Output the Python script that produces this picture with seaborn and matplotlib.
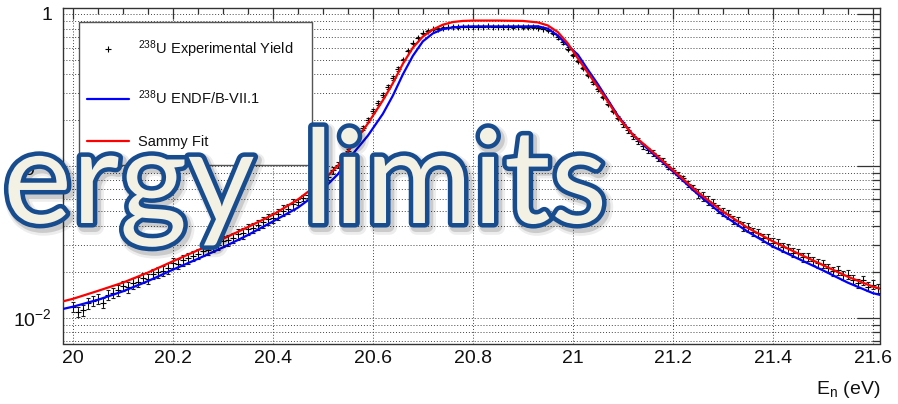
import numpy as np
import pandas as pd
import seaborn as sns
import matplotlib
matplotlib.use("Agg")
import matplotlib.pyplot as plt
from matplotlib import patheffects as pe
from matplotlib.lines import Line2D
from matplotlib.legend_handler import HandlerLine2D
from matplotlib.ticker import MultipleLocator, LogLocator, NullFormatter, FuncFormatter

# ---------------------------------------------------------------- data
# measured capture yield, one point per 0.01 eV from 20.00 to 21.61 eV
exp_energy = np.round(np.arange(20.00, 21.615, 0.01), 2)
exp_yield = [
    0.0118, 0.0109, 0.0112, 0.0124, 0.0129, 0.0133, 0.0125, 0.0141, 0.0146, 0.0151,
    0.0162, 0.0158, 0.0168, 0.0172, 0.0183, 0.0180, 0.0194, 0.0199, 0.0203, 0.0212,
    0.0229, 0.0226, 0.0238, 0.0246, 0.0255, 0.0263, 0.0276, 0.0280, 0.0296, 0.0301,
    0.0318, 0.0323, 0.0336, 0.0355, 0.0360, 0.0382, 0.0390, 0.0408, 0.0424, 0.0446,
    0.0455, 0.0480, 0.0507, 0.0522, 0.0556, 0.0577, 0.0615, 0.0644, 0.0692, 0.0728,
    0.0785,
    0.0846, 0.0935, 0.1015, 0.1138, 0.1252, 0.1428, 0.1574, 0.1786, 0.1995, 0.2290,
    0.2575, 0.2930, 0.3290, 0.3765, 0.4340, 0.5010, 0.5740, 0.6415, 0.6990, 0.7460,
    0.7715, 0.7920, 0.8020, 0.8140, 0.8160, 0.8235, 0.8220, 0.8265, 0.8240, 0.8270,
    0.8255, 0.8230, 0.8275, 0.8250, 0.8235, 0.8262, 0.8245, 0.8220, 0.8250, 0.8225,
    0.8190, 0.8175, 0.8120, 0.8010, 0.7800, 0.7460, 0.7010, 0.6500, 0.5920, 0.5380,
    0.4890, 0.4420, 0.3960, 0.3540, 0.3190, 0.2840, 0.2565, 0.2295, 0.2075, 0.1875,
    0.1720, 0.1565, 0.1455, 0.1345, 0.1265, 0.1215, 0.1125, 0.1078, 0.0985, 0.0936,
    0.0872, 0.0828, 0.0758, 0.0718, 0.0660, 0.0628, 0.0590, 0.0566, 0.0520, 0.0496,
    0.0478, 0.0440, 0.0432, 0.0398, 0.0394, 0.0368, 0.0362, 0.0336, 0.0333, 0.0312,
    0.0308, 0.0290, 0.0287, 0.0268, 0.0266, 0.0250, 0.0252, 0.0236, 0.0228, 0.0226,
    0.0212, 0.0202, 0.0205, 0.0190, 0.0192, 0.0178, 0.0168, 0.0176, 0.0160, 0.0165,
    0.0156,
]
# relative uncertainty (%) of the yield, by energy band (lower band edges)
err_band_start = [20.00, 20.45, 20.55, 20.66, 20.97, 21.10, 21.25]
err_band_pct = [8.0, 5.0, 3.0, 1.0, 2.0, 4.0, 6.5]

# evaluated (ENDF/B-VII.1) and fitted (SAMMY) yield curves
curve_energy = [19.98, 20.00, 20.05, 20.10, 20.15, 20.20, 20.25, 20.30, 20.35, 20.40, 20.45,
                20.50, 20.53, 20.56, 20.59, 20.62, 20.64, 20.66, 20.68, 20.70, 20.72,
                20.74, 20.76, 20.78, 20.80, 20.85, 20.90, 20.93, 20.95, 20.97, 20.99,
                21.01, 21.03, 21.05, 21.07, 21.09, 21.12, 21.15, 21.20, 21.25, 21.30,
                21.35, 21.40, 21.45, 21.50, 21.55, 21.60, 21.615]
sammy_fit = [0.0128, 0.0133, 0.0150, 0.0170, 0.0198, 0.0235, 0.0278, 0.0330, 0.0395, 0.0476, 0.0600,
             0.0800, 0.1000, 0.1380, 0.1900, 0.2700, 0.3500, 0.4700, 0.6000, 0.7100, 0.7900,
             0.8500, 0.8850, 0.9000, 0.9050, 0.9050, 0.9000, 0.8800, 0.8400, 0.7600, 0.6400,
             0.5100, 0.4100, 0.3300, 0.2650, 0.2100, 0.1600, 0.1320, 0.0940, 0.0670, 0.0500,
             0.0390, 0.0318, 0.0265, 0.0222, 0.0186, 0.0160, 0.0155]
endf_b71 = [0.0114, 0.0118, 0.0131, 0.0149, 0.0174, 0.0207, 0.0244, 0.0290, 0.0350, 0.0430, 0.0530,
            0.0700, 0.0880, 0.1200, 0.1580, 0.2200, 0.2900, 0.4000, 0.5300, 0.6600, 0.7450,
            0.7950, 0.8150, 0.8250, 0.8280, 0.8280, 0.8280, 0.8300, 0.8000, 0.7200, 0.6200,
            0.5400, 0.4300, 0.3450, 0.2720, 0.2140, 0.1600, 0.1290, 0.0920, 0.0650, 0.0475,
            0.0368, 0.0294, 0.0245, 0.0205, 0.0170, 0.0145, 0.0141]

legend_labels = [r"$^{238}$U Experimental Yield", r"$^{238}$U ENDF/B-VII.1", "Sammy Fit"]
x_label = r"E$_{n}$ (eV)"
y_tick_values = [0.01, 0.1, 1.0]
y_tick_labels = [r"$10^{-2}$", r"$10^{-1}$", "1"]
title_words = ["ergy", "limits"]

# ---------------------------------------------------------------- frames
df_exp = pd.DataFrame({"E": exp_energy, "Y": exp_yield})
band_idx = np.searchsorted(err_band_start, df_exp["E"].values + 1e-9) - 1
df_exp["err"] = df_exp["Y"] * np.array(err_band_pct)[band_idx] / 100.0
df_curve = pd.DataFrame({"E": curve_energy, "fit": sammy_fit, "endf": endf_b71})

# ---------------------------------------------------------------- style
sns.set_theme(style="white")
plt.rcParams["font.family"] = ["Liberation Sans", "DejaVu Sans"]
plt.rcParams["mathtext.default"] = "regular"

W, H = 898, 404
fig = plt.figure(figsize=(W / 100, H / 100), dpi=100)
fig.patch.set_facecolor("white")
ax_l, ax_r, ax_t, ax_b = 63.3, 880.0, 8.3, 343.5
ax = fig.add_axes([ax_l / W, 1 - ax_b / H, (ax_r - ax_l) / W, (ax_b - ax_t) / H])
ax.set_facecolor("white")

# ---------------------------------------------------------------- marks
ax.errorbar(df_exp["E"], df_exp["Y"], yerr=df_exp["err"], fmt="+", color="black",
            ms=4, mew=0.8, ecolor="#1a1a1a", elinewidth=0.7, capsize=1.6,
            capthick=0.7, zorder=3)
sns.lineplot(data=df_curve, x="E", y="endf", color="#0000ff", lw=1.6,
             sort=False, estimator=None, ax=ax, zorder=4)
sns.lineplot(data=df_curve, x="E", y="fit", color="#ff0000", lw=1.6,
             sort=False, estimator=None, ax=ax, zorder=5)

# ---------------------------------------------------------------- axes
ax.set_yscale("log")
ax.set_xlim(19.9806, 21.6146)
ax.set_ylim(0.00675, 1.09)

ax.xaxis.set_major_locator(MultipleLocator(0.2))
ax.xaxis.set_minor_locator(MultipleLocator(0.05))
ax.xaxis.set_major_formatter(FuncFormatter(lambda v, p: f"{v:g}"))
ax.set_yticks(y_tick_values)
ax.set_yticklabels(y_tick_labels)
ax.yaxis.set_minor_locator(LogLocator(base=10, subs=np.arange(2, 10)))
ax.yaxis.set_minor_formatter(NullFormatter())

ax.tick_params(axis="both", which="both", direction="in", top=True, right=True,
               color="#333333", width=0.9, labelsize=14, labelcolor="#111111")
ax.tick_params(axis="x", which="major", length=8, pad=5)
ax.tick_params(axis="x", which="minor", length=4)
ax.tick_params(axis="y", which="major", length=16.5, pad=8)
ax.tick_params(axis="y", which="minor", length=5.5)

ax.grid(True, axis="x", which="major", color="#444444", ls=(0, (1, 2)), lw=0.7)
ax.grid(True, axis="y", which="both", color="#444444", ls=(0, (1, 2)), lw=0.7)
ax.set_axisbelow(True)
for s in ax.spines.values():
    s.set_color("#333333")
    s.set_linewidth(1.0)

ax.set_ylabel("")
ax.set_xlabel(x_label, loc="right", fontsize=14, color="#111111", labelpad=8)

# ---------------------------------------------------------------- legend
handles = [
    Line2D([], [], marker="+", ls="none", color="black", ms=4, mew=0.8),
    Line2D([], [], color="#0000ff", lw=1.6),
    Line2D([], [], color="#ff0000", lw=1.6),
]
leg_x0 = (79 - ax_l) / (ax_r - ax_l)
leg_x1 = (312 - ax_l) / (ax_r - ax_l)
leg_top = (ax_b - 22) / (ax_b - ax_t)
leg = ax.legend(handles, legend_labels, loc="upper left",
                bbox_to_anchor=(leg_x0, leg_top - 0.5, leg_x1 - leg_x0, 0.5),
                mode="expand", fontsize=10.5, frameon=True, fancybox=False,
                framealpha=1, edgecolor="#555555", borderpad=1.1,
                labelspacing=1.95, handlelength=2.35, handletextpad=0.6,
                numpoints=1, borderaxespad=0,
                handler_map={Line2D: HandlerLine2D(xpad=-0.55)})
leg.get_frame().set_linewidth(1.0)
for t in leg.get_texts():
    t.set_color("#111111")
leg.set_zorder(6)

# ---------------------------------------------------------------- slide title overlay
title_fx = [
    pe.Stroke(linewidth=11, foreground="#000000", alpha=0.07, offset=(2.5, -3)),
    pe.Stroke(linewidth=8, foreground="#000000", alpha=0.14, offset=(2, -2.5)),
    pe.Stroke(linewidth=6.5, foreground="#174c8f"),
    pe.Normal(),
]
title_x = [3, 303]
for word, xpx in zip(title_words, title_x):
    fig.text(xpx / W, 1 - 223 / H, word, fontfamily="Lato", fontsize=94,
             color="#f3f0e4", ha="left", va="baseline", zorder=20,
             path_effects=title_fx)

fig.savefig("out.png", dpi=100, facecolor="white")
